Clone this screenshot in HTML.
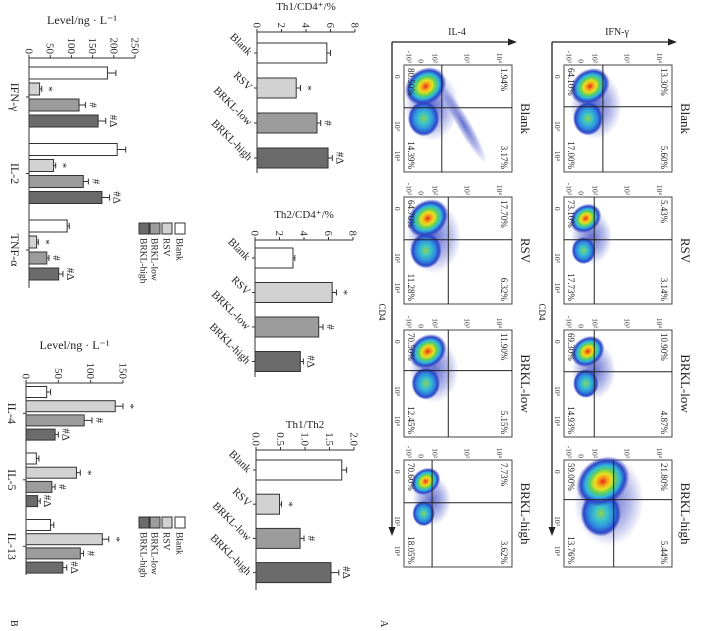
<!DOCTYPE html>
<html><head><meta charset="utf-8"><style>
html,body{margin:0;padding:0;background:#fff;}
svg{display:block;font-family:"Liberation Serif",serif;}
</style></head><body>
<svg id="fig" width="701" height="631" viewBox="0 0 701 631" xmlns="http://www.w3.org/2000/svg">
<defs>
<radialGradient id="heat1"><stop offset="0" stop-color="#e8271c"/><stop offset="0.18" stop-color="#f4a21a"/><stop offset="0.32" stop-color="#e8e020"/><stop offset="0.48" stop-color="#5fd05a"/><stop offset="0.64" stop-color="#30b8e0"/><stop offset="0.82" stop-color="#2d45c8"/><stop offset="1" stop-color="#2d3cc0" stop-opacity="0"/></radialGradient>
<radialGradient id="heat2"><stop offset="0" stop-color="#8fd14b"/><stop offset="0.3" stop-color="#3cc4c8"/><stop offset="0.6" stop-color="#2f8fe0"/><stop offset="0.85" stop-color="#2d45c8"/><stop offset="1" stop-color="#2d3cc0" stop-opacity="0"/></radialGradient>
<radialGradient id="haze"><stop offset="0" stop-color="#2d3cc0" stop-opacity="0.75"/><stop offset="0.6" stop-color="#2d3cc0" stop-opacity="0.35"/><stop offset="1" stop-color="#2d3cc0" stop-opacity="0"/></radialGradient>
</defs>
<g id="root" transform="translate(701,0) rotate(90)"></g>
</svg>
<script>
// ---- data ----
const groups = ['Blank','RSV','BRKL-low','BRKL-high'];
const th1Vals = [5.7, 3.2, 4.9, 5.8];
const th1Errs = [0.3, 0.35, 0.3, 0.35];
const th2Vals = [3.1, 6.3, 5.2, 3.7];
const th2Errs = [0.15, 0.35, 0.35, 0.25];
const ratioVals = [1.75, 0.48, 0.9, 1.53];
const ratioErrs = [0.1, 0.04, 0.08, 0.16];
const sigMarks = ['', '*', '#', '#Δ'];
const th1Ticks = [0,2,4,6,8];
const th2Ticks = [0,2,4,6,8];
const ratioTicks = [0,0.5,1.0,1.5,2.0];
const ratioTickLabels = ['0.0','0.5','1.0','1.5','2.0'];
const cytACats = ['IFN-γ','IL-2','TNF-α'];
const cytABlank = [185, 208, 90];
const cytARsv = [25, 58, 18];
const cytALow = [118, 128, 42];
const cytAHigh = [163, 172, 70];
const cytAErr = [[20,20,5],[5,5,4],[15,12,5],[18,18,10]];
const cytATicks = [0,50,100,150,200,250];
const cytBCats = ['IL-4','IL-5','IL-13'];
const cytBBlank = [32, 16, 38];
const cytBRsv = [138, 78, 118];
const cytBLow = [90, 40, 84];
const cytBHigh = [45, 18, 57];
const cytBErr = [[6,4,5],[12,6,10],[12,5,5],[5,4,6]];
const cytBTicks = [0,50,100,150];
const flowRows = ['IFN-γ','IL-4'];
const ifnPct = [['13.30%','5.60%','64.10%','17.00%'],['5.43%','3.14%','73.10%','17.73%'],['10.90%','4.87%','69.30%','14.93%'],['21.80%','5.44%','59.00%','13.76%']];
const il4Pct = [['1.94%','3.17%','80.50%','14.39%'],['17.70%','6.32%','64.70%','11.28%'],['11.90%','5.15%','70.50%','12.45%'],['7.73%','3.62%','70.60%','18.05%']];

const NS='http://www.w3.org/2000/svg';
const root=document.getElementById('root');
function mk(tag,attrs,parent){const e=document.createElementNS(NS,tag);for(const k in attrs)e.setAttribute(k,attrs[k]);parent.appendChild(e);return e;}
function txt(s,attrs,parent){const e=mk('text',attrs,parent);e.textContent=s;return e;}
const fills=['#ffffff','#d2d2d2','#9c9c9c','#6b6b6b'];

// ---- simple bar chart (middle column) ----
function simpleChart(name,title,vals,errs,ticks,tickLabels,max,axisU,v0,vTop,uStart,step,bw,baseEnd){
  const g=mk('g',{},root);
  
  
  const y=v=>v0-v/max*(v0-vTop);
  const ax=mk('line',{x1:axisU,y1:v0,x2:axisU,y2:vTop,stroke:'#333','stroke-width':1},g);
  
  
  ticks.forEach((t,i)=>{
    mk('line',{x1:axisU-3,y1:y(t),x2:axisU,y2:y(t),stroke:'#333'},g);
    const tl=txt(tickLabels[i],{x:axisU-4,y:y(t)+3.5,'text-anchor':'end','font-size':11,fill:'#333'},g);
    
    
  });
  const bl=mk('line',{x1:axisU,y1:v0,x2:baseEnd,y2:v0,stroke:'#333'},g);
  
  
  const tt=txt(title,{x:0,y:0,'text-anchor':'middle','font-size':11,fill:'#222',transform:`translate(${axisU-22},${(v0+vTop)/2}) rotate(-90)`},g);
  
  
  vals.forEach((v,i)=>{
    const uc=uStart+i*step;
    const r=mk('rect',{x:uc-bw/2,y:y(v),width:bw,height:v0-y(v),fill:fills[i],stroke:'#333','stroke-width':1},g);
    
    
    const ye=y(v+errs[i]);
    mk('line',{x1:uc,y1:y(v),x2:uc,y2:ye,stroke:'#333'},g);
    mk('line',{x1:uc-3,y1:ye,x2:uc+3,y2:ye,stroke:'#333'},g);
    if(sigMarks[i]){const m=txt(sigMarks[i],{x:uc,y:ye-4,'text-anchor':'middle','font-size':11,fill:'#222'},g);
      
      }
    mk('line',{x1:uc,y1:v0,x2:uc,y2:v0+3,stroke:'#333'},g);
    const cl=txt(groups[i],{x:0,y:0,'text-anchor':'end','font-size':11,fill:'#222',transform:`translate(${uc+3},${v0+9}) rotate(-45)`},g);
    
    
  });
}
simpleChart('th1-cd4-chart','Th1/CD4⁺/%',th1Vals,th1Errs,th1Ticks,th1Ticks.map(String),8,32,444,346,53,35,20,173);
simpleChart('th2-cd4-chart','Th2/CD4⁺/%',th2Vals,th2Errs,th2Ticks,th2Ticks.map(String),8,240,446,348,258,34.5,20,377);
simpleChart('th1-th2-ratio-chart','Th1/Th2',ratioVals,ratioErrs,ratioTicks,ratioTickLabels,2,450,445,347,470,34.2,20,590);

// ---- grouped chart (panel B) ----
function groupedChart(name,cats,series,errs,ticks,max,axisU,v0,vTop,gStart,gStep,bStep,bw,baseEnd,legendU){
  const g=mk('g',{},root);
  
  
  const y=v=>v0-v/max*(v0-vTop);
  mk('line',{x1:axisU,y1:v0,x2:axisU,y2:vTop,stroke:'#333'},g);
  ticks.forEach(t=>{
    mk('line',{x1:axisU-3,y1:y(t),x2:axisU,y2:y(t),stroke:'#333'},g);
    const tl=txt(String(t),{x:axisU-4,y:y(t)+3.5,'text-anchor':'end','font-size':11,fill:'#333'},g);
    
    
  });
  mk('line',{x1:axisU,y1:v0,x2:baseEnd,y2:v0,stroke:'#333'},g);
  const tt=txt('Level/ng · L⁻¹',{x:0,y:0,'text-anchor':'middle','font-size':12,fill:'#222',transform:`translate(${axisU-34},${(v0+vTop)/2}) rotate(-90)`},g);
  
  
  cats.forEach((c,ci)=>{
    const g0=gStart+ci*gStep;
    series.forEach((s,si)=>{
      const uc=g0+si*bStep, v=s[ci];
      const r=mk('rect',{x:uc-bw/2,y:y(v),width:bw,height:v0-y(v),fill:fills[si],stroke:'#333'},g);
      
      
      const ye=y(v+errs[si][ci]);
      mk('line',{x1:uc,y1:y(v),x2:uc,y2:ye,stroke:'#333'},g);
      mk('line',{x1:uc-3,y1:ye,x2:uc+3,y2:ye,stroke:'#333'},g);
      if(sigMarks[si]){const m=txt(sigMarks[si],{x:uc,y:ye-4,'text-anchor':'middle','font-size':11,fill:'#222'},g);
        
        }
    });
    const mid=g0+1.5*bStep;
    mk('line',{x1:mid,y1:v0,x2:mid,y2:v0+3,stroke:'#333'},g);
    const cl=txt(c,{x:mid,y:v0+18,'text-anchor':'middle','font-size':12,fill:'#222'},g);
    
    
  });
  const lg=mk('g',{},g);
  
  
  const lv=[521,534,546,557];
  groups.forEach((n,i)=>{
    const e=mk('g',{},lg);
    
    
    mk('rect',{x:legendU,y:lv[i]-5,width:11,height:10,fill:fills[i],stroke:'#333'},e);
    txt(n,{x:legendU+15,y:lv[i]+3.5,'font-size':9.5,fill:'#222'},e);
  });
}
groupedChart('cytokine-th1-chart',cytACats,[cytABlank,cytARsv,cytALow,cytAHigh],cytAErr,cytATicks,250,58,672,566,73,76.5,16,12,288,223);
groupedChart('cytokine-th2-chart',cytBCats,[cytBBlank,cytBRsv,cytBLow,cytBHigh],cytBErr,cytBTicks,150,383,675,578,392,66.5,14.2,11,575,517);

// ---- flow cytometry panel A ----
const boxU=[65,197,330,460], boxW=107, boxH=108, rowV=[29,189];
const qU=[[0.39,0.40,0.39,0.37],[0.40,0.40,0.38,0.40]];
const qV=[[0.64,0.72,0.72,0.54],[0.65,0.59,0.59,0.74]];
const blobV=[[0.76,0.8,0.78,0.64],[0.8,0.78,0.78,0.8]];
const blobScale=[[1,0.8,0.85,1.35],[1.05,1.05,0.95,0.75]];
flowRows.forEach((rowName,ri)=>{
  const v0=rowV[ri];
  const ag=mk('g',{},root);
  
  
  const axisV=v0+120;
  mk('line',{x1:42,y1:axisV,x2:530,y2:axisV,stroke:'#222','stroke-width':1.3},ag);
  mk('polygon',{points:`536,${axisV} 527,${axisV-3.5} 527,${axisV+3.5}`,fill:'#222'},ag);
  mk('line',{x1:42,y1:axisV,x2:42,y2:v0+1,stroke:'#222','stroke-width':1.3},ag);
  mk('polygon',{points:`42,${v0-5} 38.5,${v0+4} 45.5,${v0+4}`,fill:'#222'},ag);
  const yl=txt(rowName,{x:0,y:0,'text-anchor':'middle','font-size':10,fill:'#222',transform:`translate(35,${v0+55}) rotate(-90)`},ag);
  
  
  const xl=txt('CD4',{x:312,y:axisV+13,'text-anchor':'middle','font-size':9,fill:'#222'},ag);
  
  
  const pct = ri===0?ifnPct:il4Pct;
  boxU.forEach((u0,bi)=>{
    const g=mk('g',{},ag);
    
    
    const gt=txt(groups[bi],{x:u0+boxW/2,y:v0-9,'text-anchor':'middle','font-size':13,fill:'#222'},g);
    
    
    mk('rect',{x:u0,y:v0,width:boxW,height:boxH,fill:'#fff',stroke:'#444'},g);
    const s=blobScale[ri][bi], bv=v0+boxH*blobV[ri][bi];
    const u1=u0+boxW*0.2, u2=u0+boxW*0.5;
    mk('ellipse',{cx:u0+boxW*0.38,cy:bv-6,rx:34*s,ry:26*s,fill:'url(#haze)'},g);
    if(ri===1&&bi===0){mk('ellipse',{cx:u0+boxW*0.55,cy:v0+boxH*0.45,rx:45,ry:7,fill:'url(#haze)',transform:`rotate(-30 ${u0+boxW*0.55} ${v0+boxH*0.45})`},g);}
    mk('ellipse',{cx:u2,cy:bv+2,rx:17*s,ry:15*s,fill:'url(#heat2)'},g);
    mk('ellipse',{cx:u1,cy:bv,rx:17*s,ry:21*s,fill:'url(#heat1)',transform:`rotate(-35 ${u1} ${bv})`},g);
    const lu=u0+boxW*qU[ri][bi], lv=v0+boxH*qV[ri][bi];
    mk('line',{x1:lu,y1:v0,x2:lu,y2:v0+boxH,stroke:'#222'},g);
    mk('line',{x1:u0,y1:lv,x2:u0+boxW,y2:lv,stroke:'#222'},g);
    const p=pct[bi];
    const pos=[[u0+3,v0+11,'start'],[u0+boxW-3,v0+11,'end'],[u0+3,v0+boxH-4,'start'],[u0+boxW-3,v0+boxH-4,'end']];
    pos.forEach((q,qi)=>{
      const t=txt(p[qi],{x:q[0],y:q[1],'text-anchor':q[2],'font-size':9,fill:'#222'},g);
      
      
    });
    [['10⁴',0.11],['10³',0.41],['10²',0.71],['0',0.84],['-10³',0.95]].forEach(a=>{
      txt(a[0],{x:u0-2,y:v0+boxH*a[1]+3,'text-anchor':'end','font-size':7.5,fill:'#333'},g);
    });
    [['0',0.11],['10³',0.57],['10⁴',0.85]].forEach(a=>{
      txt(a[0],{x:u0+boxW*a[1],y:v0+boxH+9,'text-anchor':'middle','font-size':7.5,fill:'#333'},g);
    });
  });
});
const A=txt('A',{x:620,y:320,'font-size':10,fill:'#222'},root);


const B=txt('B',{x:620,y:690,'font-size':10,fill:'#222'},root);


</script>
</body></html>
